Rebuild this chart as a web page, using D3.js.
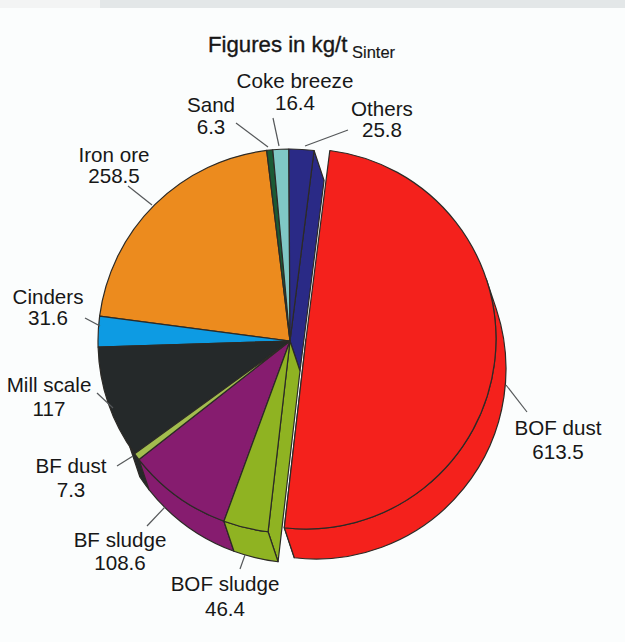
<!DOCTYPE html>
<html>
<head>
<meta charset="utf-8">
<style>
html,body{margin:0;padding:0;background:#fbfdfd;}
svg{display:block;}
text{font-family:"Liberation Sans",Arial,sans-serif;fill:#171717;}
</style>
<script src="https://cdn.jsdelivr.net/npm/d3@7"></script>
</head>
<body>
<svg id="chart" width="625" height="642"></svg>
<script>
// Sinter plant input streams, clockwise from the exploded slice
const categories = ["BOF dust","BOF sludge","BF sludge","BF dust","Mill scale","Cinders","Iron ore","Sand","Coke breeze","Others"];
const values = [613.5,46.4,108.6,7.3,117,31.6,258.5,6.3,16.4,25.8];
const colors = ["#f4211c","#8fb322","#861c6f","#a3bd4e","#25292a","#0d9be3","#ec8b1e","#1b5a34","#80c8c5","#2a2a86"];

// Label placement: centre x, first baseline, second baseline
const labelX = [558,225,120,71,49,48,114,211,295,382];
const labelY1 = [435,591,547,473,392,304,162,112,88,116];
const labelY2 = [459,616,570,497,416,325,183,134,110,137];
// Leader lines: start and end points
const leaders = [[506,385,527,412],[245,555,240,569],[165,507,147,526],[133,456,117,466],[113,408,97,393],
                 [100,326,85,318],[152,205,128,186],[268,147,236,123],[279,146,273,118],[305,146,348,130]];

const width = 625, height = 642;
const cx = 290, cy = 341, radius = 192;
// The pulled-out slice has its own centre and a slightly smaller radius
const redX = 306, redY = 339, redRadius = 190;
const depth = [10, 30];
const startAngle = 7.2 * Math.PI / 180;
const outline = "#2c2a26";

const svg = d3.select("#chart");

// Paper tone and the darker strip along the top edge
svg.append("rect").attr("width", width).attr("height", height).attr("fill", "#fbfdfd");
svg.append("rect").attr("width", width).attr("height", 8).attr("fill", "#e3e7e8");
svg.append("rect").attr("width", 100).attr("height", 8).attr("fill", "#f3f4f4");

const pie = d3.pie().sort(null).value(d => d)
  .startAngle(startAngle).endAngle(startAngle + 2 * Math.PI);
const slices = pie(values);

const point = (x, y, r, a) => [x + r * Math.sin(a), y - r * Math.cos(a)];

// Rim wall between two angles, extruded by the depth vector
function rim(x, y, r, a0, a1) {
  const p = d3.path();
  const s = point(x, y, r, a0), e = point(x, y, r, a1);
  p.moveTo(s[0], s[1]);
  p.arc(x, y, r, a0 - Math.PI / 2, a1 - Math.PI / 2);
  p.lineTo(e[0] + depth[0], e[1] + depth[1]);
  p.arc(x + depth[0], y + depth[1], r, a1 - Math.PI / 2, a0 - Math.PI / 2, true);
  p.closePath();
  return p.toString();
}
// Flat cut face running from the pie centre along one slice edge
function cut(x, y, r, a) {
  const e = point(x, y, r, a);
  const p = d3.path();
  p.moveTo(x, y);
  p.lineTo(e[0], e[1]);
  p.lineTo(e[0] + depth[0], e[1] + depth[1]);
  p.lineTo(x + depth[0], y + depth[1]);
  p.closePath();
  return p.toString();
}

const g = svg.append("g").attr("stroke", outline).attr("stroke-width", 1.2).attr("stroke-linejoin", "round");
const idx = name => categories.indexOf(name);
const face = (i, x, y, r) => g.append("path")
  .attr("d", d3.arc().innerRadius(0).outerRadius(r)(slices[i]))
  .attr("transform", `translate(${x},${y})`).attr("fill", colors[i]);

// Flat faces of the main pie, walls on top where the extrusion shows
[idx("Iron ore"), idx("Sand"), idx("Coke breeze"), idx("Cinders"), idx("Mill scale")].forEach(i => face(i, cx, cy, radius));

const iOthers = idx("Others");
g.append("path").attr("d", cut(cx, cy, radius, slices[iOthers].endAngle)).attr("fill", colors[iOthers]);
face(iOthers, cx, cy, radius);

const iDust = idx("BF dust"), iSludge = idx("BF sludge"), iBof = idx("BOF sludge"), iRed = idx("BOF dust");
// Dark wall under the thin BF dust slice reaches a little into the mill scale rim
const dustWallExtra = 2.5 * Math.PI / 180;
g.append("path").attr("d", rim(cx, cy, radius, slices[iDust].startAngle, slices[iDust].endAngle + dustWallExtra)).attr("fill", colors[idx("Mill scale")]);
g.append("path").attr("d", rim(cx, cy, radius, slices[iSludge].startAngle, slices[iSludge].endAngle)).attr("fill", colors[iSludge]);
g.append("path").attr("d", cut(cx, cy, radius, slices[iBof].startAngle)).attr("fill", colors[iBof]);
g.append("path").attr("d", rim(cx, cy, radius, slices[iBof].startAngle, slices[iBof].endAngle)).attr("fill", colors[iBof]);
face(iSludge, cx, cy, radius);
face(iDust, cx, cy, radius);
face(iBof, cx, cy, radius);

// The large slice pulled away from the centre, with its own wall
const wallStart = Math.PI / 2 - Math.atan2(depth[0], depth[1]);
g.append("path").attr("d", cut(redX, redY, redRadius, slices[iRed].endAngle)).attr("fill", colors[iRed]);
g.append("path").attr("d", rim(redX, redY, redRadius, wallStart, slices[iRed].endAngle)).attr("fill", colors[iRed]);
face(iRed, redX, redY, redRadius);

// Leader lines
svg.append("g").selectAll("line").data(leaders).join("line")
  .attr("x1", d => d[0]).attr("y1", d => d[1]).attr("x2", d => d[2]).attr("y2", d => d[3])
  .attr("stroke", "#55585a").attr("stroke-width", 1.2);

// Slice names and values
const labels = svg.append("g").attr("font-size", 20.6).attr("text-anchor", "middle");
categories.forEach((name, i) => {
  labels.append("text").attr("x", labelX[i]).attr("y", labelY1[i]).text(name);
  labels.append("text").attr("x", labelX[i]).attr("y", labelY2[i]).text(values[i]);
});

// Heading with the subscripted unit
const title = svg.append("text").attr("x", 208).attr("y", 52).attr("font-size", 22.2)
  .attr("stroke", "#171717").attr("stroke-width", 0.35);
title.append("tspan").text("Figures in kg/t");
title.append("tspan").attr("x", 352).attr("y", 58).attr("font-size", 16.5).attr("stroke-width", 0.15).text("Sinter");
</script>
</body>
</html>
